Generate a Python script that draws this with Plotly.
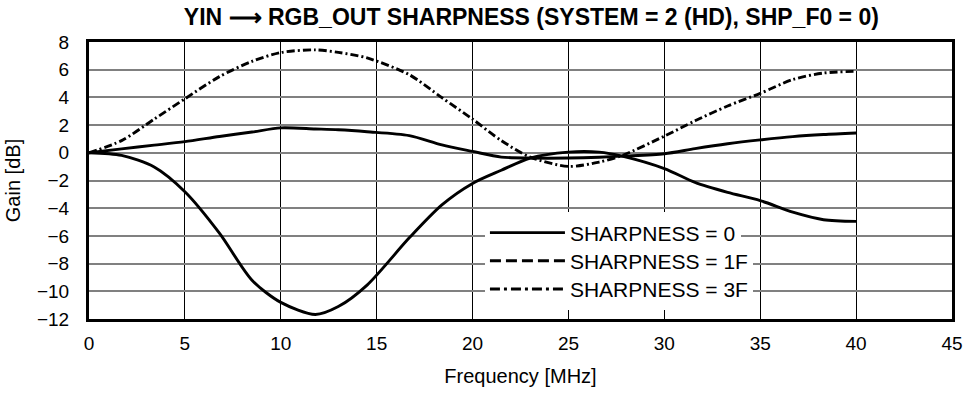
import plotly.graph_objects as go

freq = [0, 1.7, 3.4, 5, 6.8, 8.5, 10, 11.8, 13, 14.5, 16.7, 18.4, 20, 21.5, 23,
        25, 26.6, 27.8, 30, 31.6, 33.3, 35, 36.7, 38.3, 40]

gain_sharp_0 = [0, -0.19, -1.02, -2.81, -5.8, -9.2, -10.8, -11.67, -11.1, -9.55,
                -6.14, -3.76, -2.21, -1.26, -0.38, 0.05, 0.05, -0.24, -1.14, -2.14,
                -2.86, -3.45, -4.29, -4.83, -4.95]

gain_sharp_1f = [0, 0.28, 0.55, 0.81, 1.18, 1.5, 1.8, 1.72, 1.66, 1.52,
                 1.24, 0.57, 0.1, -0.31, -0.38, -0.38, -0.32, -0.24, -0.07, 0.3,
                 0.65, 0.93, 1.17, 1.32, 1.43]

gain_sharp_3f = [0, 0.88, 2.43, 3.9, 5.5, 6.6, 7.24, 7.43, 7.25, 6.85,
                 5.64, 3.98, 2.43, 0.88, -0.31, -0.98, -0.67, -0.19, 1.2, 2.31,
                 3.38, 4.29, 5.29, 5.76, 5.88]

series_names = ["SHARPNESS = 0", "SHARPNESS = 1F", "SHARPNESS = 3F"]
x_ticks = [0, 5, 10, 15, 20, 25, 30, 35, 40, 45]
y_ticks = [8, 6, 4, 2, 0, -2, -4, -6, -8, -10, -12]
y_tick_text = ["8", "6", "4", "2", "0", "\u22122", "\u22124", "\u22126", "\u22128", "\u221210", "\u221212"]

FONT = "Liberation Sans, Arial, sans-serif"
LW = 2.9

fig = go.Figure()

# Curves as drawn in the plot
plot_dash = ["solid", "solid", "8px,3px,2px,3px"]
for name, ys, d in zip(series_names, [gain_sharp_0, gain_sharp_1f, gain_sharp_3f], plot_dash):
    fig.add_trace(go.Scatter(
        x=freq, y=ys, mode="lines", name=name, showlegend=False,
        line=dict(color="black", width=LW, dash=d, shape="spline", smoothing=0.8),
        hoverinfo="x+y",
    ))

# Legend entries (one legend per row so the row spacing matches)
legend_dash = ["solid", "11px,5px", "10px,4px,3px,4px"]
legend_ids = ["legend", "legend2", "legend3"]
legend_rows_y = [0.3107, 0.2089, 0.1071]
for name, d, lid in zip(series_names, legend_dash, legend_ids):
    fig.add_trace(go.Scatter(
        x=[None], y=[None], mode="lines", name=name, legend=lid,
        line=dict(color="black", width=LW, dash=d),
    ))

legend_style = dict(
    x=0.4588, xanchor="left", yanchor="middle",
    bgcolor="white", borderwidth=0,
    font=dict(family=FONT, size=21, color="black"),
    itemwidth=75,
)

fig.update_layout(
    width=975, height=397, autosize=False,
    margin=dict(l=86, r=15, t=42, b=75),
    paper_bgcolor="white", plot_bgcolor="white",
    font=dict(family=FONT, size=19, color="black"),
    title=dict(
        text="<b>YIN \u27f6 RGB_OUT SHARPNESS (SYSTEM = 2 (HD), SHP_F0 = 0)</b>",
        x=0.545, xanchor="center", y=0.957, yanchor="middle",
        font=dict(family=FONT, size=23, color="black"),
    ),
    legend=dict(y=legend_rows_y[0], **legend_style),
    legend2=dict(y=legend_rows_y[1], **legend_style),
    legend3=dict(y=legend_rows_y[2], **legend_style),
    showlegend=True,
)

fig.update_xaxes(
    range=[0, 45], tickmode="array", tickvals=x_ticks,
    showgrid=True, gridcolor="black", gridwidth=1,
    showline=True, linecolor="black", linewidth=3, mirror=True,
    ticks="", ticklabelstandoff=5, zeroline=False,
    title=dict(text="Frequency [MHz]", standoff=17, font=dict(size=20)),
    tickfont=dict(size=19),
)
fig.update_yaxes(
    range=[-12, 8], tickmode="array", tickvals=y_ticks, ticktext=y_tick_text,
    showgrid=True, gridcolor="#808080", gridwidth=1.5,
    showline=True, linecolor="black", linewidth=3, mirror=True,
    ticks="", ticklabelstandoff=13, zeroline=False,
    title=dict(text="Gain [dB]", standoff=11, font=dict(size=20)),
    tickfont=dict(size=19),
)

fig.write_html(
    "out.html", config={"displayModeBar": False},
    post_script=("document.body.style.margin='0';"
                 "document.body.style.overflow='hidden';"
                 "document.documentElement.style.overflow='hidden';"),
)
